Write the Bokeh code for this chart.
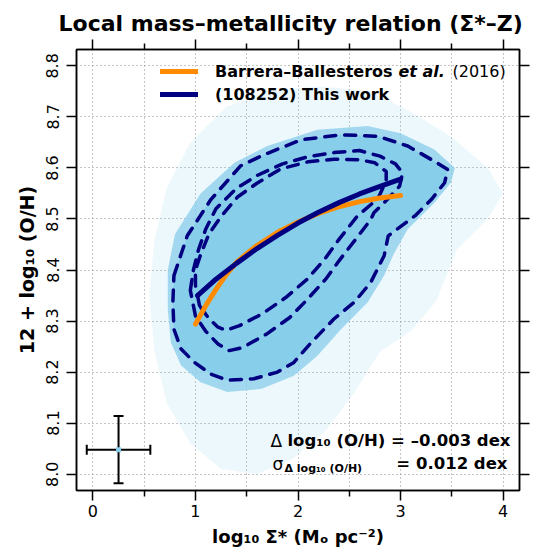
import numpy as np
from bokeh.plotting import figure
from bokeh.models import (Label, Range1d, LinearAxis, FixedTicker, Whisker, TeeHead,
                          ColumnDataSource, Legend, LegendItem, NumeralTickFormatter,
                          CustomLabelingPolicy)
from bokeh.embed import file_html
from bokeh.resources import INLINE

# ---------------- data ----------------
# Barrera-Ballesteros et al. (2016) relation
bb_x = [1.0, 1.1, 1.2, 1.3, 1.4, 1.5, 1.6, 1.8, 2.0, 2.2, 2.4, 2.6, 2.8, 3.0]
bb_y = [8.294, 8.330, 8.362, 8.391, 8.415, 8.432, 8.448, 8.474, 8.494, 8.511, 8.524, 8.534, 8.541, 8.546]

# This work
tw_x = [1.02, 1.2, 1.4, 1.6, 1.8, 2.0, 2.2, 2.4, 2.6, 2.8, 3.0]
tw_y = [8.350, 8.382, 8.413, 8.442, 8.468, 8.492, 8.513, 8.532, 8.549, 8.564, 8.578]

# density contours (outer, middle, inner)
outer_x = [0.79, 0.92, 1.15, 1.44, 1.67, 2.03, 2.42, 2.78, 3.07, 3.33, 3.46, 3.43, 3.30, 3.14,
           2.88, 2.84, 2.71, 2.55, 2.35, 2.13, 1.96, 1.80, 1.57, 1.31, 1.15, 0.99, 0.86, 0.79, 0.78, 0.79]
outer_y = [8.389, 8.467, 8.538, 8.604, 8.626, 8.655, 8.665, 8.662, 8.643, 8.613, 8.597, 8.571, 8.538, 8.506,
           8.467, 8.428, 8.376, 8.337, 8.304, 8.258, 8.219, 8.200, 8.187, 8.184, 8.196, 8.219, 8.245, 8.284, 8.337, 8.389]

mid_x = [0.95, 0.98, 1.03, 1.10, 1.20, 1.40, 1.60, 1.85, 2.10, 2.35, 2.60, 2.80, 2.95, 3.02,
         2.99, 2.87, 2.74, 2.71, 2.55, 2.40, 2.27, 2.08, 1.92, 1.69, 1.46, 1.33, 1.22, 1.10, 1.00, 0.95]
mid_y = [8.360, 8.400, 8.440, 8.480, 8.520, 8.560, 8.585, 8.608, 8.622, 8.630, 8.634, 8.623, 8.608, 8.590,
         8.564, 8.538, 8.512, 8.499, 8.457, 8.418, 8.382, 8.340, 8.307, 8.274, 8.248, 8.242, 8.255, 8.280, 8.310, 8.360]

inner_x = [1.04, 1.00, 1.00, 1.05, 1.13, 1.25, 1.41, 1.60, 1.83, 2.10, 2.35, 2.60, 2.75, 2.86,
           2.86, 2.78, 2.58, 2.40, 2.26, 2.09, 1.88, 1.65, 1.43, 1.30, 1.22, 1.13, 1.04]
inner_y = [8.330, 8.370, 8.400, 8.430, 8.470, 8.505, 8.543, 8.570, 8.598, 8.612, 8.617, 8.616, 8.610, 8.593,
           8.575, 8.540, 8.506, 8.460, 8.421, 8.382, 8.346, 8.314, 8.291, 8.282, 8.288, 8.305, 8.330]

# spaxel cloud envelopes (sparse halo, medium density, dense core = outer contour)
halo_x = [0.55, 0.60, 0.72, 0.95, 1.30, 1.70, 2.20, 2.70, 3.10, 3.50, 3.85, 4.00, 3.85, 3.55,
          3.35, 3.10, 2.80, 2.55, 2.25, 1.95, 1.60, 1.25, 0.95, 0.72, 0.60]
halo_y = [8.35, 8.46, 8.56, 8.65, 8.72, 8.75, 8.76, 8.75, 8.71, 8.66, 8.60, 8.55, 8.50, 8.44,
          8.34, 8.28, 8.24, 8.16, 8.08, 8.03, 8.00, 8.01, 8.06, 8.14, 8.24]
med_x = [0.73, 0.80, 1.05, 1.38, 1.70, 2.19, 2.68, 3.00, 3.33, 3.53, 3.49, 3.33, 3.07, 2.94,
         2.84, 2.68, 2.42, 2.19, 1.96, 1.64, 1.31, 1.05, 0.86, 0.76, 0.73]
med_y = [8.400, 8.470, 8.550, 8.610, 8.643, 8.675, 8.682, 8.668, 8.636, 8.600, 8.571, 8.532, 8.480, 8.434,
         8.389, 8.337, 8.284, 8.232, 8.193, 8.167, 8.161, 8.180, 8.213, 8.258, 8.323]

# typical uncertainty
err_x, err_y = [0.25], [8.048]
err_dx, err_dy = 0.31, 0.066

x_major = [0, 1, 2, 3, 4]
x_minor = [0.5, 1.5, 2.5, 3.5]
x_grid = [0, 0.5, 1, 1.5, 2, 2.5, 3, 3.5, 4]
y_ticks = [8.0, 8.1, 8.2, 8.3, 8.4, 8.5, 8.6, 8.7, 8.8]

SKY = "#87CEEB"
NAVY = "#000080"
ORANGE = "#FF8C00"
FONT = "DejaVu Sans"

# ---------------- figure ----------------
p = figure(width=536, height=555, output_backend="svg", toolbar_location=None,
           x_range=Range1d(-0.16, 4.16), y_range=Range1d(7.968, 8.832),
           x_axis_location=None, y_axis_location=None,
           min_border_left=76, min_border_right=17, min_border_top=49, min_border_bottom=65)
p.background_fill_color = "white"
p.border_fill_color = "white"
p.outline_line_color = "black"
p.outline_line_width = 1.5

p.title.text = "Local mass–metallicity relation (Σ*–Z)"
p.title.align = "left"
p.title.text_font = FONT
p.title.text_font_size = "22px"
p.title.text_font_style = "bold"
p.title.text_color = "black"
p.title.offset = -18
p.title.standoff = 7

no_labels = CustomLabelingPolicy(code="return []")

def make_axis(ticker, show_labels, orient=None):
    ax = LinearAxis(ticker=ticker)
    ax.axis_line_width = 1.5
    ax.axis_line_color = "black"
    ax.major_tick_line_width = 1.5
    ax.minor_tick_line_width = 1.5
    ax.major_tick_out = 10
    ax.major_tick_in = 0
    ax.minor_tick_out = 6
    ax.minor_tick_in = 0
    ax.major_label_text_font = FONT
    ax.major_label_text_color = "black"
    ax.axis_label_text_font = FONT
    ax.axis_label_text_font_size = "18px"
    ax.axis_label_text_font_style = "bold"
    ax.axis_label_text_color = "black"
    if show_labels:
        ax.major_label_text_font_size = "16px"
        ax.major_label_standoff = 4
    else:
        ax.major_label_text_font_size = "0px"
        ax.major_label_policy = no_labels
        ax.major_label_standoff = 0
    if orient:
        ax.major_label_orientation = orient
    return ax

xt = FixedTicker(ticks=x_major, minor_ticks=x_minor)
yt = FixedTicker(ticks=y_ticks)
bottom = make_axis(xt, True)
bottom.axis_label = "log₁₀ Σ* (Mₒ pc⁻²)"
bottom.axis_label_standoff = 6
top = make_axis(FixedTicker(ticks=x_major, minor_ticks=x_minor), False)
left = make_axis(yt, True, "vertical")
left.formatter = NumeralTickFormatter(format="0.0")
left.major_label_standoff = 8
left.axis_label = "12 + log₁₀ (O/H)"
left.axis_label_text_font_size = "19px"
left.axis_label_standoff = 6
right = make_axis(FixedTicker(ticks=y_ticks), False)
p.add_layout(bottom, "below")
p.add_layout(top, "above")
p.add_layout(left, "left")
p.add_layout(right, "right")

p.xgrid.ticker = FixedTicker(ticks=x_grid)
p.ygrid.ticker = FixedTicker(ticks=y_ticks)
for g in (p.xgrid, p.ygrid):
    g.grid_line_color = "#8a8a8a"
    g.grid_line_dash = "1 3"
    g.grid_line_width = 1

# cloud of spaxels
p.patch(halo_x, halo_y, fill_color=SKY, fill_alpha=0.15, line_color=None)
p.patch(med_x, med_y, fill_color=SKY, fill_alpha=0.75, line_color=None)
p.patch(outer_x, outer_y, fill_color=SKY, fill_alpha=1.0, line_color=None)

# contours
for cx, cy in ((outer_x, outer_y), (mid_x, mid_y), (inner_x, inner_y)):
    p.line(cx, cy, line_color=NAVY, line_width=3.5, line_dash="11 9", line_cap="round")

# relations
r_bb = p.line(bb_x, bb_y, line_color=ORANGE, line_width=5, line_cap="round")
r_tw = p.line(tw_x, tw_y, line_color=NAVY, line_width=5, line_cap="round")

# error cross
src = ColumnDataSource(dict(x=err_x, y=err_y,
                            xl=[err_x[0] - err_dx], xu=[err_x[0] + err_dx],
                            yl=[err_y[0] - err_dy], yu=[err_y[0] + err_dy]))
wv = Whisker(source=src, base="x", lower="yl", upper="yu", dimension="height",
             line_width=2, line_color="black",
             upper_head=TeeHead(size=10, line_width=2, line_color="black"),
             lower_head=TeeHead(size=10, line_width=2, line_color="black"))
wh = Whisker(source=src, base="y", lower="xl", upper="xu", dimension="width",
             line_width=2, line_color="black",
             upper_head=TeeHead(size=10, line_width=2, line_color="black"),
             lower_head=TeeHead(size=10, line_width=2, line_color="black"))
p.add_layout(wv)
p.add_layout(wh)
p.scatter("x", "y", source=src, marker="square", size=5, fill_color=SKY, line_color=None)

# legend
legend = Legend(items=[LegendItem(label="Barrera–Ballesteros", renderers=[r_bb]),
                       LegendItem(label="(108252) This work", renderers=[r_tw])],
                location=(84, 386), orientation="vertical")
legend.background_fill_alpha = 0
legend.border_line_color = None
legend.padding = 0
legend.margin = 0
legend.spacing = 3
legend.glyph_width = 38
legend.glyph_height = 20
legend.label_height = 20
legend.label_standoff = 17
legend.label_text_font = FONT
legend.label_text_font_style = "bold"
legend.label_text_font_size = "16px"
legend.label_text_color = "black"
legend.label_text_baseline = "middle"
p.add_layout(legend)

def lab(text, x, y, size, style="bold", align="left", baseline="middle"):
    p.add_layout(Label(x=x, y=y, x_units="screen", y_units="screen", text=text,
                       text_font=FONT, text_font_size=size, text_font_style=style,
                       text_align=align, text_baseline=baseline, text_color="black"))

# frame-relative screen positions (origin = frame bottom-left)
lab("et al.", 398 - 76, 490 - 71, "16px", "bold italic")
lab("(2016)", 452 - 76, 490 - 71, "16px", "normal")

lab("Δ", 270 - 76, 490 - 440, "17px", "normal")
lab("log₁₀ (O/H) = –0.003 dex", 510 - 76, 490 - 440, "16.5px", "bold", "right")
lab("σ", 272 - 76, 490 - 463, "17px", "normal")
lab("Δ log₁₀ (O/H)", 284 - 76, 490 - 468, "11px", "bold")
lab("= 0.012 dex", 507 - 76, 490 - 463, "16.5px", "bold", "right")

open("out.html", "w").write(file_html(p, INLINE))
